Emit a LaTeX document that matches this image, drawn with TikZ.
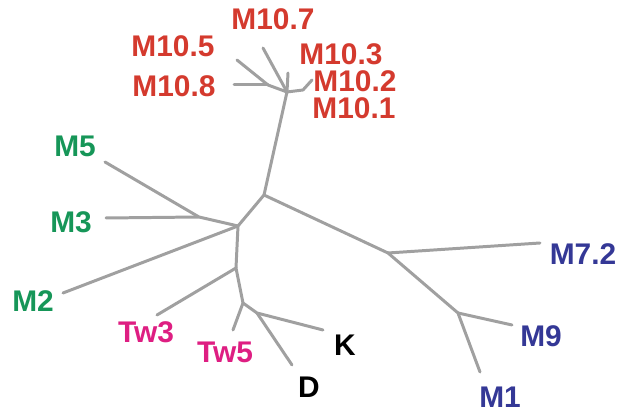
\documentclass[tikz,border=0pt]{standalone}
\usepackage{fontspec}
\setmainfont{Liberation Sans}
\definecolor{treegray}{RGB}{160,160,160}
\definecolor{cladered}{RGB}{212,58,46}
\definecolor{cladegreen}{RGB}{22,150,88}
\definecolor{cladeblue}{RGB}{52,56,150}
\definecolor{cladepink}{RGB}{222,30,130}
\begin{document}
\begin{tikzpicture}[x=0.02cm,y=-0.02cm,
		branch/.style={line width=1.7pt,draw=treegray,line cap=round,line join=round},
		leaf/.style={font=\fontsize{17}{19}\selectfont\bfseries,inner sep=0pt}]
		\useasboundingbox (0,0) rectangle (620,411);
		% inner vertices
		\coordinate (J) at (287,92);
		\coordinate (J58) at (268,85);
		\coordinate (J2) at (303,90);
		\coordinate (R) at (264,195);
		\coordinate (L) at (238,226);
		\coordinate (L35) at (199,217);
		\coordinate (T) at (236,268);
		\coordinate (T5) at (243,303);
		\coordinate (DK) at (257,313);
		\coordinate (B1) at (388,253);
		\coordinate (B2) at (458,313);
		% leaf ends
		\coordinate (e105) at (237,60);
		\coordinate (e108) at (234,85);
		\coordinate (e107) at (263,48);
		\coordinate (e103) at (288,73);
		\coordinate (e102) at (312,80);
		\coordinate (eM5) at (105,162);
		\coordinate (eM3) at (106,218);
		\coordinate (eM2) at (63,293);
		\coordinate (eTw3) at (157,315);
		\coordinate (eTw5) at (233,330);
		\coordinate (eK) at (323,330);
		\coordinate (eD) at (292,365);
		\coordinate (eM72) at (540,243);
		\coordinate (eM9) at (512,325);
		\coordinate (eM1) at (480,372);
		% branches
		\draw [branch] (e105) to (J58) to (J);
		\draw [branch] (e108) to (J58);
		\draw [branch] (e107) to (J);
		\draw [branch] (e103) to (J);
		\draw [branch] (e102) to (J2) to (J);
		\draw [branch] (J) to (R) to (L) to (T) to (T5) to (DK) to (eK);
		\draw [branch] (eM5) to (L35) to (L);
		\draw [branch] (eM3) to (L35);
		\draw [branch] (eM2) to (L);
		\draw [branch] (eTw3) to (T);
		\draw [branch] (eTw5) to (T5);
		\draw [branch] (DK) to (eD);
		\draw [branch] (R) to (B1) to (B2) to (eM1);
		\draw [branch] (B1) to (eM72);
		\draw [branch] (B2) to (eM9);
		% labels
		\node [leaf,text=cladered] (M107) at (273,19) {M10.7};
		\node [leaf,text=cladered] (M105) at (173,46) {M10.5};
		\node [leaf,text=cladered] (M103) at (341,54) {M10.3};
		\node [leaf,text=cladered] (M108) at (174,86) {M10.8};
		\node [leaf,text=cladered] (M102) at (355,81) {M10.2};
		\node [leaf,text=cladered] (M101) at (354,108) {M10.1};
		\node [leaf,text=cladegreen] (M5) at (75,146) {M5};
		\node [leaf,text=cladegreen] (M3) at (71,222) {M3};
		\node [leaf,text=cladegreen] (M2) at (33,301) {M2};
		\node [leaf,text=cladepink] (Tw3) at (146,332) {Tw3};
		\node [leaf,text=cladepink] (Tw5) at (225,352) {Tw5};
		\node [leaf] (K) at (345,345) {K};
		\node [leaf] (D) at (309,387) {D};
		\node [leaf,text=cladeblue] (M72) at (583,254) {M7.2};
		\node [leaf,text=cladeblue] (M9) at (541,336) {M9};
		\node [leaf,text=cladeblue] (M1) at (500,397) {M1};
	\end{tikzpicture}
\end{document}
